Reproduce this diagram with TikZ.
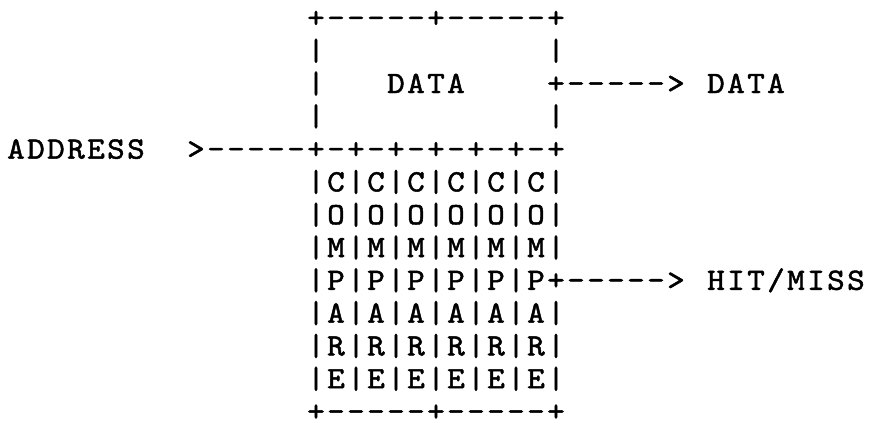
\documentclass[tikz,border=0pt]{standalone}
\usepackage{fontspec}
% typewriter face, widened and thickened like a bold daisy-wheel print
\newfontfamily\typewriter{lmmono10-regular.otf}[FakeStretch=1.08,FakeBold=1.6]

% fixed character pitch: every glyph sits in a cell of width \cellw
\newlength\cellw
\setlength\cellw{20pt}
\newcommand\cellglyph[1]{\makebox[\cellw][c]{#1}}
% '.' stands for an empty cell
\def\cellrun#1{\ifx#1\relax\else\if.#1\hspace*{\cellw}\else\cellglyph{#1}\fi\expandafter\cellrun\fi}
\newcommand\cells[1]{\cellrun#1\relax}

\begin{document}
\begin{tikzpicture}[x=1pt,y=-1pt,
  textrow/.style={anchor=base west,inner sep=0pt,outer sep=0pt,
    font=\typewriter\fontsize{31}{31}\selectfont}]
\useasboundingbox (0,0) rectangle (869,428);
% column c is centred at 16+20c; row r is centred at 18+32.8r
\def\colx#1{\fpeval{6+20*#1}}
\def\rowy#1{\fpeval{18+32.8*#1+9.4}}

\node[textrow] (top)    at (\colx{15},\rowy{0})  {\cells{+-----+-----+}};
\node[textrow] (side1)  at (\colx{15},\rowy{1})  {\cells{|...........|}};
\node[textrow] (data)   at (\colx{15},\rowy{2})  {\cells{|...DATA....+----->.DATA}};
\node[textrow] (side2)  at (\colx{15},\rowy{3})  {\cells{|...........|}};
\node[textrow] (address) at (\colx{0},\rowy{4})  {\cells{ADDRESS..>-----+-+-+-+-+-+-+}};
\node[textrow] (cmpC)   at (\colx{15},\rowy{5})  {\cells{|C|C|C|C|C|C|}};
\node[textrow] (cmpO)   at (\colx{15},\rowy{6})  {\cells{|O|O|O|O|O|O|}};
\node[textrow] (cmpM)   at (\colx{15},\rowy{7})  {\cells{|M|M|M|M|M|M|}};
\node[textrow] (hit)    at (\colx{15},\rowy{8})  {\cells{|P|P|P|P|P|P+----->.HIT/MISS}};
\node[textrow] (cmpA)   at (\colx{15},\rowy{9})  {\cells{|A|A|A|A|A|A|}};
\node[textrow] (cmpR)   at (\colx{15},\rowy{10}) {\cells{|R|R|R|R|R|R|}};
\node[textrow] (cmpE)   at (\colx{15},\rowy{11}) {\cells{|E|E|E|E|E|E|}};
\node[textrow] (bottom) at (\colx{15},\rowy{12}) {\cells{+-----+-----+}};
\end{tikzpicture}
\end{document}
